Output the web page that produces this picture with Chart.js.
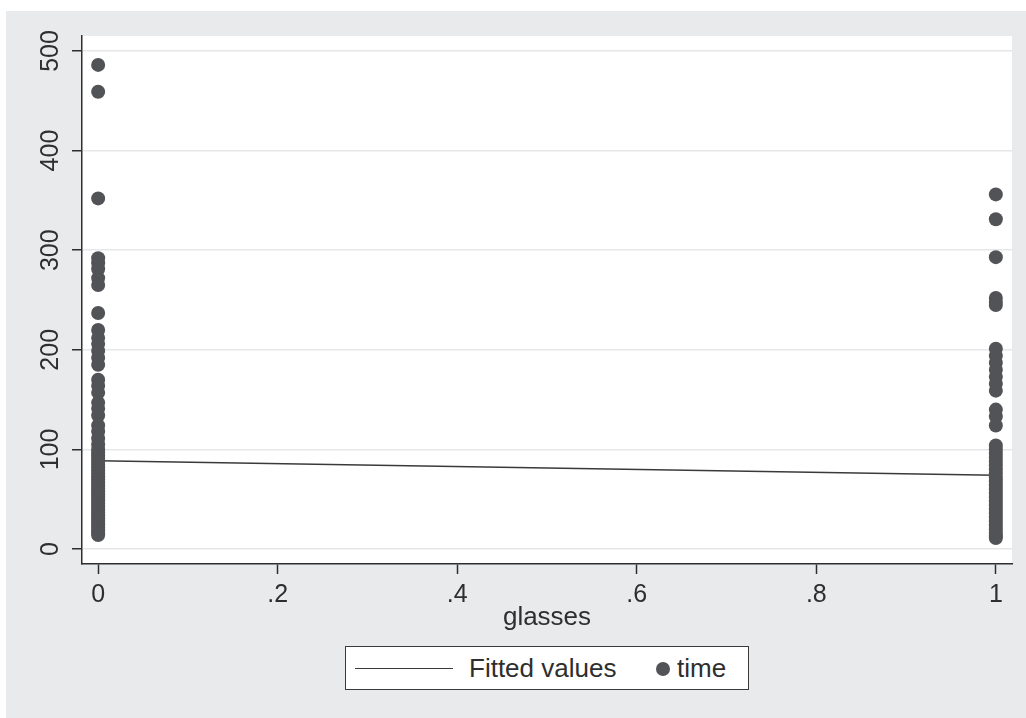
<!DOCTYPE html>
<html>
<head>
<meta charset="utf-8">
<script src="https://cdn.jsdelivr.net/npm/chart.js@4.4.1/dist/chart.umd.min.js"></script>
<style>
  html, body { margin: 0; padding: 0; background: #fff; }
  #wrap { position: relative; width: 1026px; height: 718px; background: #fff; overflow: hidden; }
  #panel { position: absolute; left: 6px; top: 11px; right: 0; bottom: 0; background: #e9eaec; }
  #box { position: absolute; left: 0; top: 0; width: 1026px; height: 718px; }
  #legend { position: absolute; left: 345px; top: 646px; width: 402px; height: 42px;
    background: #fff; border: 1.5px solid #3a3a3a; font-family: "Liberation Sans", Arial, sans-serif;
    font-size: 26px; line-height: 30px; color: #2e2e2e; }
  #legend .line { position: absolute; left: 9px; top: 21px; width: 98px; height: 0; border-top: 1.5px solid #3a3a3a; }
  #legend .t1 { position: absolute; left: 123px; top: 6px; }
  #legend .dot { position: absolute; left: 310px; top: 15px; width: 14px; height: 14px; border-radius: 50%; background: #525356; }
  #legend .t2 { position: absolute; left: 331px; top: 6px; }
</style>
</head>
<body>
<div id="wrap">
  <div id="panel"></div>
  <div id="box"><canvas id="myChart"></canvas></div>
  <div id="legend">
    <div class="line"></div><div class="t1">Fitted values</div>
    <div class="dot"></div><div class="t2">time</div>
  </div>
</div>
<script>
// time values, glasses = 0
const timeNoGlasses = [486, 459, 352, 292, 287, 281, 272, 265, 237, 220, 212, 206, 199, 192, 185,
  170, 164, 157, 147, 141, 134, 124, 118, 111, 105, 100, 97, 94, 91, 88, 85, 82, 79, 76, 73,
  70, 67, 64, 61, 58, 55, 52, 49, 46, 43, 40, 37, 34, 31, 28, 25, 22, 19, 16, 14]
// time values, glasses = 1
const timeGlasses = [356, 331, 293, 252, 248, 245, 201, 194, 187, 180, 173, 166, 159, 140, 133, 124,
  104, 100, 96, 92, 88, 84, 80, 76, 72, 68, 64, 60, 56, 52, 48, 44, 40, 36, 32, 28, 24, 20, 16, 13, 11]
const fittedX = [0, 1]
const fittedY = [88.6, 74.2]
const xTicks = [0, 0.2, 0.4, 0.6, 0.8, 1]
const xTickLabels = ['0', '.2', '.4', '.6', '.8', '1']
const yTicks = [0, 100, 200, 300, 400, 500]

const dark = '#2e2e2e'
const dotColor = '#525356'

const timePoints = timeNoGlasses.map(v => ({ x: 0, y: v }))
  .concat(timeGlasses.map(v => ({ x: 1, y: v })))
const fittedPoints = fittedX.map((x, i) => ({ x: x, y: fittedY[i] }))

const plotBg = {
  id: 'plotBg',
  beforeDraw(chart) {
    const { ctx, chartArea: a } = chart
    ctx.save()
    ctx.fillStyle = '#ffffff'
    ctx.fillRect(a.left, a.top, a.right - a.left, a.bottom - a.top)
    ctx.restore()
  }
}

const fam = '"Liberation Sans", Arial, sans-serif'

new Chart(document.getElementById('myChart').getContext('2d'), {
  data: {
    datasets: [{
      type: 'line',
      label: 'Fitted values',
      data: fittedPoints,
      borderColor: '#3a3a3a',
      borderWidth: 1.5,
      pointRadius: 0,
      order: 2
    }, {
      type: 'scatter',
      label: 'time',
      data: timePoints,
      backgroundColor: dotColor,
      borderWidth: 0,
      pointRadius: 7,
      order: 1
    }]
  },
  options: {
    responsive: true,
    maintainAspectRatio: false,
    animation: false,
    layout: { padding: { left: 0, top: 36, right: 14, bottom: 0 } },
    plugins: { legend: { display: false }, tooltip: { enabled: false } },
    scales: {
      x: {
        type: 'linear',
        min: -0.018,
        max: 1.018,
        afterFit: s => { s.height = 154 },
        afterBuildTicks: s => { s.ticks = xTicks.map(v => ({ value: v })) },
        grid: { drawOnChartArea: false, drawTicks: true, tickLength: 10, tickColor: dark, tickWidth: 1.5 },
        border: { color: dark, width: 1.5 },
        ticks: {
          autoSkip: false, padding: 6, color: dark, font: { family: fam, size: 25 },
          maxRotation: 0,
          callback: (v) => xTickLabels[xTicks.indexOf(v)]
        },
        title: { display: true, text: 'glasses', color: dark, font: { family: fam, size: 26 }, padding: { top: 0, bottom: 85 } }
      },
      y: {
        type: 'linear',
        min: -15,
        max: 515,
        afterFit: s => { s.width = 82 },
        afterBuildTicks: s => { s.ticks = yTicks.map(v => ({ value: v })) },
        grid: { color: '#e6e7e9', lineWidth: 1.5, tickLength: 10, tickColor: dark, tickWidth: 1.5 },
        border: { color: dark, width: 1.5 },
        ticks: {
          autoSkip: false, padding: 0, color: dark, font: { family: fam, size: 25 },
          minRotation: 90, maxRotation: 90, crossAlign: 'center',
          callback: v => String(v)
        }
      }
    }
  },
  plugins: [plotBg]
})
</script>
</body>
</html>
